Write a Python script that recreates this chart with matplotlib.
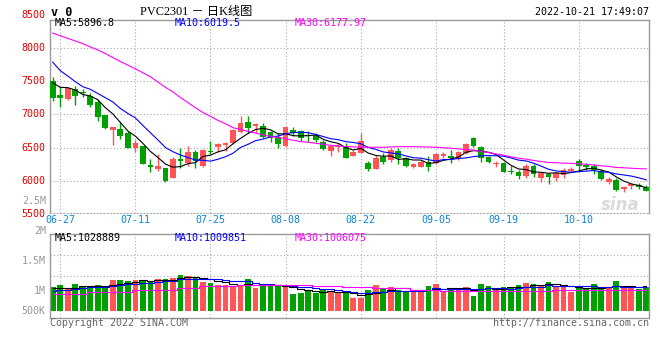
import numpy as np
import matplotlib
matplotlib.use('Agg')
import matplotlib.pyplot as plt
from matplotlib import transforms

# PVC2301 daily K line, 2022-06-24 .. 2022-10-21 (80 trading days)
open_ = [7506, 7295, 7234, 7385, 7345, 7280, 7194, 6993, 6771, 6781,
         6721, 6499, 6524, 6237, 6182, 6192, 6046, 6323, 6272, 6429,
         6222, 6454, 6504, 6539, 6565, 6731, 6882, 6826, 6826, 6731,
         6655, 6520, 6766, 6750, 6690, 6685, 6590, 6454, 6504, 6504,
         6373, 6420, 6265, 6177, 6360, 6318, 6449, 6340, 6212, 6212,
         6280, 6265, 6378, 6378, 6338, 6415, 6645, 6504, 6358, 6252,
         6265, 6147, 6137, 6076, 6227, 6036, 6101, 6036, 6086, 6147,
         6298, 6227, 6227, 6152, 5975, 6011, 5870, 5915, 5935, 5910]
high = [7572, 7420, 7420, 7430, 7385, 7320, 7219, 6993, 6811, 6887,
        6756, 6615, 6524, 6328, 6398, 6192, 6353, 6500, 6524, 6464,
        6474, 6605, 6575, 6590, 6781, 6977, 6977, 6877, 6877, 6751,
        6716, 6816, 6806, 6766, 6751, 6716, 6615, 6539, 6565, 6565,
        6464, 6720, 6298, 6388, 6413, 6489, 6489, 6363, 6262, 6310,
        6373, 6420, 6439, 6464, 6445, 6565, 6665, 6524, 6375, 6303,
        6280, 6227, 6160, 6247, 6247, 6111, 6111, 6137, 6187, 6202,
        6323, 6262, 6247, 6172, 6061, 6046, 5920, 5970, 5960, 5935]
low = [7209, 7118, 7219, 7144, 7259, 7118, 6907, 6776, 6539, 6630,
       6489, 6439, 6257, 6137, 6152, 5986, 6036, 6190, 6220, 6197,
       6202, 6403, 6439, 6454, 6555, 6716, 6726, 6726, 6640, 6590,
       6489, 6510, 6675, 6600, 6590, 6590, 6464, 6373, 6439, 6338,
       6373, 6413, 6152, 6172, 6252, 6288, 6252, 6202, 6197, 6200,
       6152, 6250, 6338, 6272, 6320, 6410, 6514, 6288, 6262, 6212,
       6127, 6096, 6020, 6036, 6051, 5986, 5945, 5995, 6046, 6127,
       6127, 6162, 6096, 6011, 5950, 5845, 5835, 5870, 5875, 5845]
close = [7254, 7245, 7405, 7285, 7320, 7144, 6967, 6801, 6811, 6680,
         6499, 6570, 6257, 6207, 6222, 6000, 6333, 6303, 6429, 6298,
         6464, 6434, 6555, 6575, 6766, 6867, 6801, 6857, 6665, 6650,
         6560, 6810, 6716, 6640, 6675, 6615, 6479, 6529, 6524, 6348,
         6439, 6600, 6175, 6343, 6288, 6464, 6340, 6225, 6245, 6288,
         6202, 6403, 6398, 6348, 6439, 6555, 6529, 6350, 6275, 6272,
         6137, 6125, 6076, 6227, 6096, 6111, 6051, 6111, 6162, 6177,
         6227, 6212, 6162, 6026, 6026, 5860, 5900, 5945, 5910, 5850]
# closes before 06-24, estimated from where the MA5 / MA10 lines start
prev_close = [8525, 8205, 8145, 8080, 7540, 7600, 7430, 7460, 7661]
# MA30
ma30 = [8230, 8190, 8150, 8110, 8070, 8020, 7975, 7920, 7860, 7800,
        7745, 7690, 7630, 7570, 7490, 7410, 7340, 7255, 7180, 7100,
        7030, 6970, 6910, 6860, 6800, 6775, 6745, 6720, 6690, 6670,
        6650, 6635, 6610, 6590, 6580, 6565, 6550, 6535, 6525, 6515,
        6512, 6505, 6505, 6505, 6505, 6510, 6514, 6514, 6514, 6512,
        6508, 6504, 6498, 6490, 6480, 6470, 6462, 6440, 6425, 6405,
        6385, 6360, 6340, 6325, 6305, 6290, 6275, 6272, 6265, 6262,
        6255, 6248, 6238, 6225, 6215, 6200, 6195, 6188, 6182, 6178]

# volume, thousands of lots
volume = [1067, 1095, 1023, 1117, 1078, 1078, 1095, 1056, 1178, 1178,
          1162, 1178, 1162, 1162, 1195, 1195, 1212, 1262, 1245, 1228,
          1145, 1128, 1095, 1095, 1067, 1078, 1195, 1045, 1095, 1095,
          1078, 1067, 945, 967, 989, 967, 1023, 990, 956, 967,
          884, 884, 1012, 1095, 1028, 1062, 1012, 995, 995, 995,
          1078, 1112, 978, 1045, 1045, 1062, 912, 1112, 1078, 1012,
          1062, 1045, 1095, 1128, 1112, 1078, 1145, 1062, 1095, 978,
          1045, 1028, 1112, 1045, 1045, 1162, 1062, 1045, 1028, 1062]
prev_volume = [950, 930, 960, 945, 970, 1040, 1023, 1117, 948]
vol_ma30 = [940, 940, 941, 942, 943, 972, 973, 974, 975, 975,
            976, 1010, 1011, 1012, 1012, 1013, 1014, 1050, 1051, 1052,
            1076, 1077, 1078, 1079, 1080, 1094, 1095, 1095, 1096, 1096,
            1096, 1096, 1095, 1095, 1094, 1085, 1084, 1084, 1083, 1068,
            1067, 1066, 1066, 1040, 1040, 1039, 1038, 1038, 1013, 1012,
            1012, 1011, 996, 995, 995, 995, 995, 995, 995, 995,
            995, 995, 995, 995, 995, 996, 1003, 1004, 1006, 1006,
            1006, 1006, 1006, 1006, 1006, 1006, 1006, 1006, 1006, 1006]

date_labels = ['06-27', '07-11', '07-25', '08-08', '08-22', '09-05', '09-19', '10-10']
date_pos = [1, 11, 21, 31, 41, 51, 60, 70]
price_ticks = [5500, 6000, 6500, 7000, 7500, 8000, 8500]
vol_ticks = [1000, 1500, 2000, 2500]
vol_tick_labels = ['1M', '1.5M', '2M', '2.5M']
vol_base = 667          # bars start here (shown as 500K)


def ma(values, prev, n):
    s = np.array(prev + values, dtype=float)
    out = np.convolve(s, np.ones(n) / n, mode='valid')
    return out[-len(values):]


RED = '#ff5555'
GREEN = '#00a000'
GRID = '#aaaaaa'
MONO = 'DejaVu Sans Mono'
FS = 7.2
W, H = 660, 360

x = np.arange(len(close))
o = np.array(open_, float)
c = np.array(close, float)
up = c >= o
cols = [RED if u else GREEN for u in up]

fig = plt.figure(figsize=(6.6, 3.6), dpi=100)


def fpos(px, py):
    return px / W, 1 - py / H


def ftext(px, py, s, **kw):
    fx, fy = fpos(px, py)
    kw.setdefault('family', MONO)
    kw.setdefault('fontsize', FS)
    fig.text(fx, fy, s, **kw)


ax = fig.add_axes([50 / W, 1 - 213 / H, 599 / W, 193 / H])
axv = fig.add_axes([50 / W, 1 - 318.3 / H, 599 / W, 84 / H])

xlim = (-0.36, 79.36)

# ---- price panel
for p in price_ticks[1:-1]:
    ax.axhline(p, color=GRID, lw=0.8, ls=(0, (1, 2)), zorder=0)
for d in date_pos:
    ax.axvline(d, color=GRID, lw=0.8, ls=(0, (1, 2)), zorder=0)

ax.text(75.5, 5640, 'sina', fontsize=12, style='italic', fontweight='bold',
        color='#dadada', ha='center', va='center', zorder=0)

ax.vlines(x, low, high, colors=cols, lw=1, zorder=2)
body_lo = np.minimum(o, c)
body_h = np.maximum(np.abs(c - o), 18)
ax.bar(x, body_h, bottom=body_lo, width=0.76, color=cols, lw=0, zorder=3)

ax.plot(x, ma(close, prev_close, 5), color='black', lw=0.8, zorder=4)
ax.plot(x, ma(close, prev_close, 10), color='#0000ff', lw=0.8, zorder=4)
ax.plot(x, ma30, color='#ff00ff', lw=0.8, zorder=4)

ax.set_xlim(*xlim)
ax.set_ylim(5512, 8427)
ax.set_xticks([])
ax.set_yticks([])
for s in ['left', 'top', 'right']:
    ax.spines[s].set_color('#999999')
    ax.spines[s].set_linewidth(1)
ax.spines['bottom'].set_color(GRID)
ax.spines['bottom'].set_linestyle((0, (1, 2)))
ax.spines['bottom'].set_linewidth(0.8)

yt = transforms.blended_transform_factory(ax.transAxes, ax.transData)
for p in price_ticks:
    ax.text(-0.007, p, str(p), transform=yt, ha='right', va='center',
            family=MONO, fontsize=FS, color='#e60000', clip_on=False)

# ---- volume panel
v = np.array(volume, float)
axv.bar(x, v - vol_base, bottom=vol_base, width=0.76, color=cols, lw=0, zorder=2)
axv.plot(x, ma(volume, prev_volume, 5), color='black', lw=0.8, drawstyle='steps-mid', zorder=3)
axv.plot(x, ma(volume, prev_volume, 10), color='#0000ff', lw=0.8, drawstyle='steps-mid', zorder=3)
axv.plot(x, vol_ma30, color='#ff00ff', lw=0.8, drawstyle='steps-mid', zorder=3)

axv.set_xlim(*xlim)
vlo, vhi = 540, 1940
axv.set_ylim(vlo, vhi)
for q in np.linspace(vlo, vhi, 5)[1:-1]:
    axv.axhline(q, color=GRID, lw=0.8, ls=(0, (1, 2)), zorder=0)
for d in date_pos:
    axv.axvline(d, color=GRID, lw=0.8, ls=(0, (1, 2)), zorder=0)
axv.set_xticks([])
axv.set_yticks([])
for s in axv.spines.values():
    s.set_color('#999999')
    s.set_linewidth(1)

vt = transforms.blended_transform_factory(axv.transAxes, axv.transData)
for val, lab in zip(vol_ticks, vol_tick_labels):
    axv.text(-0.007, val, lab, transform=vt, ha='right', va='center',
             family=MONO, fontsize=FS, color='#999999', clip_on=False)
axv.text(-0.007, vol_base, '500K', transform=vt, ha='right', va='center',
         family=MONO, fontsize=FS, color='#999999', clip_on=False)

# date labels between the panels
dt = transforms.blended_transform_factory(ax.transData, fig.transFigure)
for d, lab in zip(date_pos, date_labels):
    ax.text(d, 1 - 220 / H, lab, transform=dt, ha='center', va='center',
            family=MONO, fontsize=FS, color='#0a86d8', clip_on=False)

# ---- header / legends / footer
ftext(51, 12, 'v 0', fontweight='bold', va='center', fontsize=8.5)
ftext(140, 11.5, 'PVC2301 － 日K线图', va='center', fontsize=8.8,
      family=['Liberation Serif', 'Noto Sans CJK SC'])
ftext(649, 12, '2022-10-21 17:49:07', ha='right', va='center')

ftext(55, 23.5, 'MA5:5896.8', va='center', color='black')
ftext(175, 23.5, 'MA10:6019.5', va='center', color='#0000ff')
ftext(295, 23.5, 'MA30:6177.97', va='center', color='#ff00ff')

ftext(55, 238, 'MA5:1028889', va='center', color='black')
ftext(175, 238, 'MA10:1009851', va='center', color='#0000ff')
ftext(295, 238, 'MA30:1006075', va='center', color='#ff00ff')

ftext(50, 323.5, 'Copyright 2022 SINA.COM', va='center', color='#666666')
ftext(649, 323.5, 'http://finance.sina.com.cn', ha='right', va='center', color='#666666')

fig.savefig('out.png', dpi=100, facecolor='white')
